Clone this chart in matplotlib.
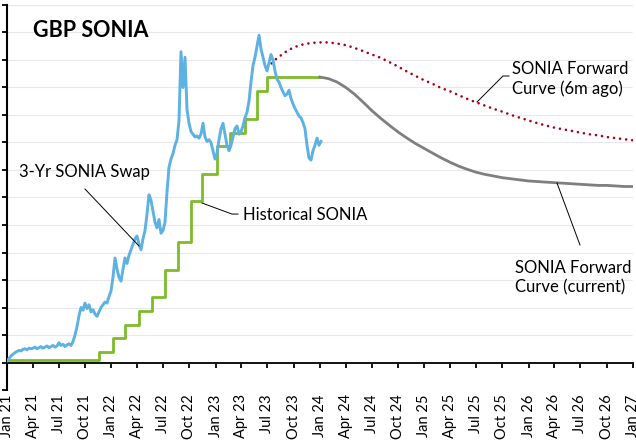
import matplotlib
matplotlib.use('Agg')
import matplotlib.pyplot as plt
import pandas as pd

# ---------------- data ----------------
# 3-Yr SONIA swap, weekly samples starting 1 Jan 2021
swap_values = [
    0.03, 0.07, 0.12, 0.15, 0.18, 0.20, 0.22, 0.21, 0.24, 0.25, 0.23, 0.26, 0.25,
    0.26, 0.28, 0.25, 0.27, 0.29, 0.26, 0.28, 0.30, 0.27, 0.29, 0.31, 0.28, 0.30,
    0.36, 0.31, 0.33, 0.29, 0.32, 0.34, 0.31, 0.38, 0.50, 0.65, 0.85, 1.00, 0.95,
    1.08, 0.98, 1.05, 0.92, 0.96, 0.88, 0.84, 0.92, 1.00, 1.05, 1.10, 1.08, 1.20,
    1.30, 1.55, 1.90, 1.70, 1.55, 1.48, 1.70, 1.90, 1.80, 1.95, 2.05, 2.15, 2.25,
    2.30, 2.15, 2.05, 2.25, 2.40, 2.70, 3.05, 2.95, 2.75, 2.55, 2.45, 2.60, 2.35,
    2.40, 2.55, 3.10, 3.55, 3.70, 3.80, 3.95, 4.05, 4.40, 5.65, 5.00, 5.55, 4.60,
    4.35, 4.20, 4.15, 4.10, 4.12, 4.08, 4.15, 4.35, 4.10, 4.02, 4.05, 4.00, 3.85,
    3.70, 3.80, 4.05, 4.25, 4.35, 4.15, 3.95, 3.85, 3.95, 4.10, 4.25, 4.30, 4.15,
    4.20, 4.30, 4.45, 4.55, 4.75, 5.10, 5.40, 5.55, 5.75, 5.95, 5.70, 5.55, 5.40,
    5.30, 5.45, 5.60, 5.50, 5.30, 5.15, 5.10, 5.00, 4.92, 4.85, 4.88, 4.95, 4.80,
    4.70, 4.62, 4.55, 4.48, 4.45, 4.36, 4.25, 3.95, 3.72, 3.68, 3.85, 3.95, 4.08,
    3.95, 4.02,
]
swap_start = '2021-01-01'

# Historical SONIA (step changes)
sonia_dates = ['2021-01-01', '2021-11-19', '2022-01-07', '2022-02-19', '2022-04-07',
               '2022-05-22', '2022-07-07', '2022-08-22', '2022-10-07', '2022-11-16',
               '2023-01-07', '2023-02-22', '2023-04-13', '2023-05-25', '2023-07-01',
               '2024-01-01']
sonia_levels = [0.05, 0.19, 0.44, 0.69, 0.94, 1.19, 1.69, 2.19, 2.93, 3.43,
                3.93, 4.18, 4.43, 4.93, 5.19, 5.19]

# SONIA forward curve 6 months ago (monthly from Jul 2023)
fwd_6m_start = '2023-07-01'
fwd_6m_values = [5.36, 5.52, 5.64, 5.73, 5.78, 5.81, 5.82, 5.82, 5.80, 5.77,
                 5.72, 5.66, 5.60, 5.54, 5.46, 5.38, 5.29, 5.21, 5.13, 5.06,
                 4.99, 4.93, 4.86, 4.79, 4.73, 4.67, 4.61, 4.56, 4.50, 4.45,
                 4.40, 4.35, 4.31, 4.27, 4.24, 4.21, 4.18, 4.15, 4.13, 4.10,
                 4.08, 4.06, 4.04]

# SONIA forward curve current (monthly from Jan 2024)
fwd_now_start = '2024-01-01'
fwd_now_values = [5.19, 5.16, 5.10, 5.00, 4.88, 4.73, 4.58, 4.44, 4.31, 4.19,
                  4.08, 3.98, 3.89, 3.80, 3.72, 3.64, 3.57, 3.51, 3.46, 3.42,
                  3.39, 3.36, 3.34, 3.32, 3.30, 3.29, 3.28, 3.27, 3.26, 3.25,
                  3.24, 3.23, 3.22, 3.22, 3.21, 3.20, 3.20]

tick_dates = pd.date_range('2021-01-01', '2027-01-01', freq='QS')
tick_labels = [d.strftime('%b %y') for d in tick_dates]

# ---------------- plot ----------------
plt.rcParams['font.family'] = ['Lato', 'DejaVu Sans']

fig = plt.figure(figsize=(6.36, 4.4), dpi=100)
ax = fig.add_axes([7/636, 1-390/440, 626/636, 385/440])

swap_dates = pd.date_range(swap_start, periods=len(swap_values), freq='7D')
fwd_6m_dates = pd.date_range(fwd_6m_start, periods=len(fwd_6m_values), freq='MS')
fwd_now_dates = pd.date_range(fwd_now_start, periods=len(fwd_now_values), freq='MS')

ax.plot(swap_dates, swap_values, color='#5DB1E3', lw=2.1, zorder=4)
ax.step(pd.to_datetime(sonia_dates), sonia_levels, where='post',
        color='#7DBB2A', lw=2.0, zorder=3)
ax.plot(fwd_now_dates, fwd_now_values, color='#7F7F7F', lw=2.0, zorder=3)
ax.plot(fwd_6m_dates, fwd_6m_values, color='#A8001C', lw=1.9,
        linestyle=(0, (0.01, 2.3)), dash_capstyle='round', zorder=3)

ax.set_xlim(pd.Timestamp('2021-01-01'), pd.Timestamp('2027-01-01'))
ax.set_ylim(-0.5, 6.5)

yt = [i * 0.5 for i in range(-1, 14)]
ax.set_yticks(yt)
ax.set_yticklabels([])
ax.grid(axis='y', color='#E8E8E8', lw=0.8, zorder=0)
ax.set_axisbelow(True)

for s in ['top', 'right']:
    ax.spines[s].set_visible(False)
ax.spines['left'].set_linewidth(1.5)
ax.spines['bottom'].set_position(('data', 0))
ax.spines['bottom'].set_linewidth(1.3)
ax.tick_params(axis='y', direction='out', length=3.5, width=1.3, left=True)
ax.set_xticks(tick_dates)
ax.tick_params(axis='x', direction='out', length=3.5, width=1.3, labelbottom=False)

sec = ax.secondary_xaxis('bottom')
sec.set_xticks(tick_dates)
sec.set_xticklabels(tick_labels, rotation=90, fontsize=10.5)
sec.tick_params(axis='x', length=0, pad=3)
sec.spines['bottom'].set_visible(False)

# titles / annotations
ax.text(0.042, 0.935, 'GBP SONIA', transform=ax.transAxes, fontsize=15.5,
        fontweight='bold', va='center', ha='left')

def leader(points):
    xs = [p[0] for p in points]
    ys = [p[1] for p in points]
    ax.plot(xs, ys, color='black', lw=0.7, transform=ax.transAxes, zorder=5)

ax.text(0.019, 0.566, '3-Yr SONIA Swap', transform=ax.transAxes, fontsize=12,
        va='center', ha='left')
leader([(0.1246, 0.522), (0.2109, 0.374)])

ax.text(0.377, 0.4545, 'Historical SONIA', transform=ax.transAxes, fontsize=12,
        va='center', ha='left')
leader([(0.3115, 0.4857), (0.3594, 0.457), (0.369, 0.457)])

ax.text(0.8067, 0.809, 'SONIA Forward\nCurve (6m ago)', transform=ax.transAxes,
        fontsize=12, va='center', ha='left', linespacing=1.25)
leader([(0.7508, 0.748), (0.7923, 0.8156), (0.8019, 0.8156)])

ax.text(0.8115, 0.292, 'SONIA Forward\nCurve (current)', transform=ax.transAxes,
        fontsize=12, va='center', ha='left', linespacing=1.25)
leader([(0.8786, 0.5377), (0.9153, 0.3766)])

fig.savefig('out.png', dpi=100)
